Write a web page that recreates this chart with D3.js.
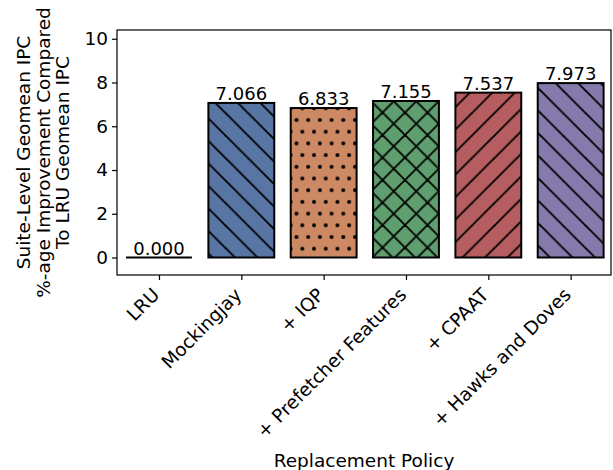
<!DOCTYPE html>
<html>
<head>
<meta charset="utf-8">
<script src="https://cdn.jsdelivr.net/npm/d3@7"></script>
<style>
  html, body { margin: 0; padding: 0; background: #fff; }
  svg { display: block; font-family: "DejaVu Sans", sans-serif; }
</style>
</head>
<body>
<svg id="chart" width="613" height="470"></svg>
<script>
// Replacement policies and their suite-level geomean IPC improvement over LRU (%)
const policies = ["LRU", "Mockingjay", "+ IQP", "+ Prefetcher Features", "+ CPAAT", "+ Hawks and Doves"];
const improvements = [0.000, 7.066, 6.833, 7.155, 7.537, 7.973];
const barColors = ["#5975a4", "#5975a4", "#cc8963", "#5f9e6e", "#b55d60", "#857aab"];
const hatches = ["none", "back", "dots", "cross", "fwd", "back"];
const yTicks = [0, 2, 4, 6, 8, 10];
const yLabelLines = ["Suite-Level Geomean IPC", "%-age Improvement Compared", "To LRU Geomean IPC"];
const xLabel = "Replacement Policy";

const svg = d3.select("#chart");
const plot = { left: 117, right: 611, top: 30, bottom: 275 };
const FS = 18.5;

const x = d3.scaleLinear().domain([-0.51, 5.49]).range([plot.left, plot.right]);
const y = d3.scaleLinear().domain([-0.8, 10.4]).range([plot.bottom, plot.top]);
const barWidth = 0.8;

// Hatch patterns
const defs = svg.append("defs");
const S = 22.5;      // diagonal line spacing
const D = 11.7;      // dot spacing
const hw = 1.8;      // hatch line width

function linePattern(id, dirs) {
  const p = defs.append("pattern").attr("id", id)
    .attr("patternUnits", "userSpaceOnUse")
    .attr("width", S).attr("height", S);
  dirs.forEach(dir => {
    const segs = dir === "back"
      ? [[-2, -2, S + 2, S + 2], [S - 2, -2, S + 2, 2], [-2, S - 2, 2, S + 2]]
      : [[-2, S + 2, S + 2, -2], [-2, 2, 2, -2], [S - 2, S + 2, S + 2, S - 2]];
    segs.forEach(s => p.append("line")
      .attr("x1", s[0]).attr("y1", s[1]).attr("x2", s[2]).attr("y2", s[3])
      .attr("stroke", "#000").attr("stroke-width", hw));
  });
}
linePattern("hatch-back", ["back"]);
linePattern("hatch-fwd", ["fwd"]);
linePattern("hatch-cross", ["back", "fwd"]);

const dp = defs.append("pattern").attr("id", "hatch-dots")
  .attr("patternUnits", "userSpaceOnUse")
  .attr("width", D).attr("height", 2 * D)
  .attr("x", plot.left + 4).attr("y", 3);
[[0, 0], [D, 0], [0, 2 * D], [D, 2 * D], [D / 2, D]].forEach(c =>
  dp.append("circle").attr("cx", c[0]).attr("cy", c[1]).attr("r", 2).attr("fill", "#000"));

const data = policies.map((p, i) => ({
  name: p, value: improvements[i], color: barColors[i], hatch: hatches[i], i
}));

// Bars
const bars = svg.append("g");
data.forEach(d => {
  const x0 = x(d.i - barWidth / 2), x1 = x(d.i + barWidth / 2);
  const yt = y(d.value), y0 = y(0);
  if (d.value === 0) {
    bars.append("line").attr("x1", x0).attr("x2", x1).attr("y1", y0).attr("y2", y0)
      .attr("stroke", "#000").attr("stroke-width", 2);
  } else {
    bars.append("rect").attr("x", x0).attr("y", yt).attr("width", x1 - x0).attr("height", y0 - yt)
      .attr("fill", d.color);
    bars.append("rect").attr("x", x0).attr("y", yt).attr("width", x1 - x0).attr("height", y0 - yt)
      .attr("fill", `url(#hatch-${d.hatch})`);
    bars.append("rect").attr("x", x0).attr("y", yt).attr("width", x1 - x0).attr("height", y0 - yt)
      .attr("fill", "none").attr("stroke", "#000").attr("stroke-width", 2);
  }
  bars.append("text").attr("x", x(d.i)).attr("y", yt - 3)
    .attr("text-anchor", "middle").attr("font-size", 18).attr("fill", "#000")
    .text(d.value.toFixed(3));
});

// Axes frame
svg.append("rect").attr("x", plot.left).attr("y", plot.top)
  .attr("width", plot.right - plot.left).attr("height", plot.bottom - plot.top)
  .attr("fill", "none").attr("stroke", "#000").attr("stroke-width", 1.2);

// Y axis
const yAxis = d3.axisLeft(y).tickValues(yTicks).tickSize(5).tickPadding(4).tickFormat(d3.format("d"));
const gy = svg.append("g").attr("transform", `translate(${plot.left},0)`).call(yAxis);
gy.select(".domain").remove();
gy.selectAll(".tick line").attr("stroke", "#000").attr("stroke-width", 1.2);
gy.selectAll(".tick text").attr("font-size", FS).attr("fill", "#000")
  .attr("font-family", "DejaVu Sans");

// X axis
const xAxis = d3.axisBottom(x).tickValues(d3.range(policies.length)).tickSize(5).tickFormat(i => policies[i]);
const gx = svg.append("g").attr("transform", `translate(0,${plot.bottom})`).call(xAxis);
gx.select(".domain").remove();
gx.selectAll(".tick line").attr("stroke", "#000").attr("stroke-width", 1.2);
gx.selectAll(".tick text")
  .attr("font-size", FS).attr("fill", "#000").attr("font-family", "DejaVu Sans")
  .attr("text-anchor", "end").attr("dy", null).attr("y", null)
  .attr("transform", "translate(1,21) rotate(-45)");

// Axis titles
svg.append("text").attr("x", (plot.left + plot.right) / 2).attr("y", 467)
  .attr("text-anchor", "middle").attr("font-size", FS).attr("fill", "#000").text(xLabel);

const yl = svg.append("text").attr("text-anchor", "middle").attr("font-size", FS).attr("fill", "#000")
  .attr("transform", `translate(30,${(plot.top + plot.bottom) / 2}) rotate(-90)`);
yLabelLines.forEach((t, k) => yl.append("tspan").attr("x", 0).attr("dy", k === 0 ? 0 : 19.5).text(t));
</script>
</body>
</html>
